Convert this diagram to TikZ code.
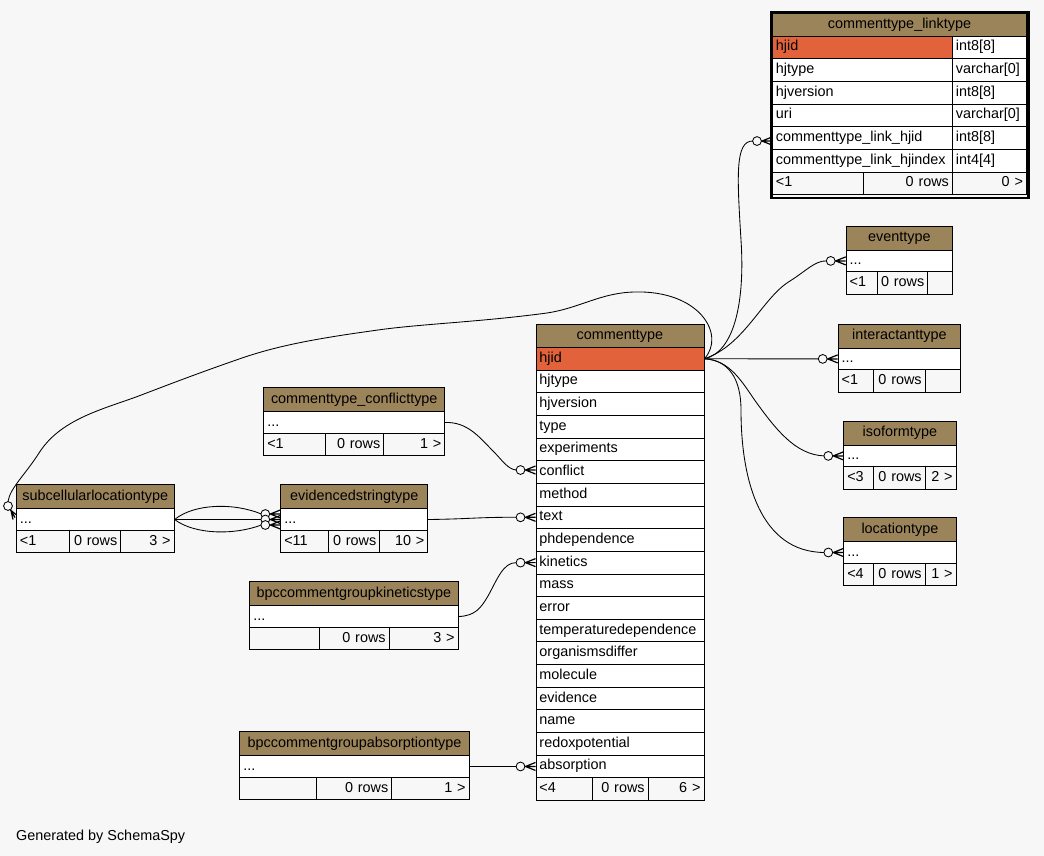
\documentclass[tikz,border=0pt]{standalone}
\usepackage{fontspec}
\setmainfont{Liberation Sans}
\usetikzlibrary{calc}
\definecolor{bgc}{HTML}{F7F7F7}
\definecolor{hdrc}{HTML}{9C845A}
\definecolor{keyc}{HTML}{E2623B}
\newcommand\fkend[1]{%
  \draw[crow] ($(#1)+(-10,0)$) -- ($(#1)+(0,-4)$)
              ($(#1)+(-10,0)$) -- ($(#1)+(0,4)$)
              ($(#1)+(-11,0)$) -- (#1);
  \draw[conn, fill=bgc] ($(#1)+(-15,0)$) circle[radius=4.4pt];
}
\begin{document}
\begin{tikzpicture}[x=1pt,y=-1pt,
  font=\fontsize{14.4}{16}\selectfont,
  cell/.style={draw=black,line width=0.9pt,inner xsep=3.5pt,inner ysep=0pt,anchor=north west,text height=10pt,text depth=3pt},
  W/.code={\pgfmathsetlengthmacro\cellw{#1pt-7pt}\edef\tmpcell{\noexpand\tikzset{text width=\cellw}}\tmpcell},
  H/.style={minimum height=#1pt},
  hdr/.style={cell,fill=hdrc,align=center},
  fld/.style={cell,fill=white,align=left},
  key/.style={cell,fill=keyc,align=left},
  fl/.style={cell,fill=bgc,align=left},
  fr/.style={cell,fill=bgc,align=right},
  conn/.style={line width=0.85pt},
  crow/.style={line width=1.2pt},
  frame/.style={draw=black,line width=2.6pt,inner sep=0pt,anchor=north west},
  note/.style={anchor=base west,inner sep=0pt}
]
\fill[bgc] (0,0) rectangle (1044,856);

% ---------- commenttype_linktype ----------
\node[hdr,W=254,H=22.65] (lt-h) at (772,13) {commenttype\_linktype};
\node[key,W=180,H=22.65] (lt-n1) at (772,35.65) {hjid};
\node[fld,W=74,H=22.65] (lt-t1) at (952,35.65) {int8[8]};
\node[fld,W=180,H=22.65] (lt-n2) at (772,58.3) {hjtype};
\node[fld,W=74,H=22.65] (lt-t2) at (952,58.3) {varchar[0]};
\node[fld,W=180,H=22.65] (lt-n3) at (772,80.95) {hjversion};
\node[fld,W=74,H=22.65] (lt-t3) at (952,80.95) {int8[8]};
\node[fld,W=180,H=22.65] (lt-n4) at (772,103.6) {uri};
\node[fld,W=74,H=22.65] (lt-t4) at (952,103.6) {varchar[0]};
\node[fld,W=180,H=22.65] (lt-n5) at (772,126.25) {commenttype\_link\_hjid};
\node[fld,W=74,H=22.65] (lt-t5) at (952,126.25) {int8[8]};
\node[fld,W=180,H=22.65] (lt-n6) at (772,148.9) {commenttype\_link\_hjindex};
\node[fld,W=74,H=22.65] (lt-t6) at (952,148.9) {int4[4]};
\node[fl,W=91,H=22.65] (lt-f1) at (772,171.55) {<1};
\node[fr,W=89,H=22.65] (lt-f2) at (863,171.55) {0 rows};
\node[fr,W=74,H=22.65] (lt-f3) at (952,171.55) {0 >};
\node[frame,minimum width=257pt,minimum height=185.5pt] (lt-frame) at (770.3,11.3) {};

% ---------- commenttype ----------
\node[hdr,W=168,H=23.5] (ct-h) at (535.5,323.5) {commenttype};
\node[key,W=168,H=22.65] (ct-hjid) at (535.5,347) {hjid};
\foreach \nm [count=\i from 1] in {hjtype,hjversion,type,experiments,conflict,method,text,phdependence,kinetics,mass,error,temperaturedependence,organismsdiffer,molecule,evidence,name,redoxpotential,absorption}
  \node[fld,W=168,H=22.65] (ct-\nm) at (535.5,{347+\i*22.65}) {\nm};
\node[fl,W=56.2,H=22.65] (ct-f1) at (535.5,777.35) {<4};
\node[fr,W=56,H=22.65] (ct-f2) at (591.7,777.35) {0 rows};
\node[fr,W=55.8,H=22.65] (ct-f3) at (647.7,777.35) {6 >};

% ---------- eventtype ----------
\node[hdr,W=106.6,H=24] (ev-h) at (845.7,225.7) {eventtype};
\node[fld,W=106.6,H=21.5] (ev-r) at (845.7,249.7) {...};
\node[fl,W=31,H=22.5] (ev-f1) at (845.7,271.2) {<1};
\node[fr,W=50.6,H=22.5] (ev-f2) at (876.7,271.2) {0 rows};
\node[fr,W=25,H=22.5] (ev-f3) at (927.3,271.2) {};

% ---------- interactanttype ----------
\node[hdr,W=122.3,H=24] (ia-h) at (837.7,323.7) {interactanttype};
\node[fld,W=122.3,H=21.5] (ia-r) at (837.7,347.7) {...};
\node[fl,W=35.6,H=22.5] (ia-f1) at (837.7,369.2) {<1};
\node[fr,W=51.4,H=22.5] (ia-f2) at (873.3,369.2) {0 rows};
\node[fr,W=35.3,H=22.5] (ia-f3) at (924.7,369.2) {};

% ---------- isoformtype ----------
\node[hdr,W=112.4,H=24] (iso-h) at (843.3,420.7) {isoformtype};
\node[fld,W=112.4,H=21.5] (iso-r) at (843.3,444.7) {...};
\node[fl,W=30,H=22.5] (iso-f1) at (843.3,466.2) {<3};
\node[fr,W=51.4,H=22.5] (iso-f2) at (873.3,466.2) {0 rows};
\node[fr,W=31,H=22.5] (iso-f3) at (924.7,466.2) {2 >};

% ---------- locationtype ----------
\node[hdr,W=112.4,H=24] (loc-h) at (843.3,517.3) {locationtype};
\node[fld,W=112.4,H=21.5] (loc-r) at (843.3,541.3) {...};
\node[fl,W=30,H=22.5] (loc-f1) at (843.3,562.8) {<4};
\node[fr,W=51.4,H=22.5] (loc-f2) at (873.3,562.8) {0 rows};
\node[fr,W=31,H=22.5] (loc-f3) at (924.7,562.8) {1 >};

% ---------- commenttype_conflicttype ----------
\node[hdr,W=181,H=24] (cf-h) at (263.3,387.3) {commenttype\_conflicttype};
\node[fld,W=181,H=21.5] (cf-r) at (263.3,411.3) {...};
\node[fl,W=61.4,H=22.5] (cf-f1) at (263.3,432.8) {<1};
\node[fr,W=58.6,H=22.5] (cf-f2) at (324.7,432.8) {0 rows};
\node[fr,W=61,H=22.5] (cf-f3) at (383.3,432.8) {1 >};

% ---------- evidencedstringtype ----------
\node[hdr,W=147,H=24] (es-h) at (280.3,484.3) {evidencedstringtype};
\node[fld,W=147,H=21.5] (es-r) at (280.3,508.3) {...};
\node[fl,W=48,H=22.5] (es-f1) at (280.3,529.8) {<11};
\node[fr,W=51,H=22.5] (es-f2) at (328.3,529.8) {0 rows};
\node[fr,W=48,H=22.5] (es-f3) at (379.3,529.8) {10 >};

% ---------- subcellularlocationtype ----------
\node[hdr,W=157.7,H=24] (sc-h) at (16,484.3) {subcellularlocationtype};
\node[fld,W=157.7,H=21.5] (sc-r) at (16,508.3) {...};
\node[fl,W=53.3,H=22.5] (sc-f1) at (16,529.8) {<1};
\node[fr,W=51,H=22.5] (sc-f2) at (69.3,529.8) {0 rows};
\node[fr,W=53.4,H=22.5] (sc-f3) at (120.3,529.8) {3 >};

% ---------- bpccommentgroupkineticstype ----------
\node[hdr,W=208.4,H=24] (kt-h) at (249.3,581.3) {bpccommentgroupkineticstype};
\node[fld,W=208.4,H=21.5] (kt-r) at (249.3,605.3) {...};
\node[fl,W=70,H=22.5] (kt-f1) at (249.3,626.8) {};
\node[fr,W=69.4,H=22.5] (kt-f2) at (319.3,626.8) {0 rows};
\node[fr,W=69,H=22.5] (kt-f3) at (388.7,626.8) {3 >};

% ---------- bpccommentgroupabsorptiontype ----------
\node[hdr,W=229.4,H=24] (ab-h) at (239.3,731.3) {bpccommentgroupabsorptiontype};
\node[fld,W=229.4,H=21.5] (ab-r) at (239.3,755.3) {...};
\node[fl,W=77,H=22.5] (ab-f1) at (239.3,776.8) {};
\node[fr,W=75,H=22.5] (ab-f2) at (316.3,776.8) {0 rows};
\node[fr,W=77.4,H=22.5] (ab-f3) at (391.3,776.8) {1 >};

\node[note] (gen) at (16,840) {Generated by SchemaSpy};

% ---------- connector end points ----------
\coordinate (e-lt) at ([yshift=-3pt]lt-n5.west);
\coordinate (e-cf) at ([yshift=2pt]ct-conflict.west);
\coordinate (es-in1) at ([yshift=5.5pt]es-r.west);
\coordinate (es-in2) at (es-r.west);
\coordinate (es-in3) at ([yshift=-5.5pt]es-r.west);
\coordinate (sc-in) at (sc-r.west);

% ---------- connectors from commenttype.hjid ----------
\draw[conn] (ct-hjid.east) .. controls (735,352) and (745,300) .. (741,240)
  .. controls (737,175) and (735,140.6) .. ($(e-lt)+(-19,0)$);
\draw[conn] (ct-hjid.east) .. controls (745,345) and (762,298) .. (790,281)
  .. controls (806,271) and (815,260.5) .. ($(ev-r.west)+(-19,0)$);
\draw[conn] (ct-hjid.east) -- ($(ia-r.west)+(-19,0)$);
\draw[conn] (ct-hjid.east) .. controls (730,360) and (742,382) .. (756,402)
  .. controls (775,428) and (795,455) .. ($(iso-r.west)+(-19,0)$);
\draw[conn] (ct-hjid.east) .. controls (728,360) and (741,378) .. (741,410)
  .. controls (741,480) and (760,552) .. ($(loc-r.west)+(-19,0)$);
\draw[conn] (ct-hjid.east) .. controls (726,335) and (700,290) .. (634,292)
  .. controls (600,293) and (580,308) .. (547,313)
  .. controls (480,322) and (420,324) .. (378,330)
  .. controls (320,338) and (280,345) .. (242,358)
  .. controls (190,376) and (160,388) .. (136,397)
  .. controls (100,410) and (60,420) .. (39,453)
  .. controls (25,475) and (10,488) .. ($(sc-in)+(-8,-17.9)$);

% ---------- connectors into commenttype ----------
\draw[conn] (cf-r.east) .. controls (468,421.7) and (480,438) .. (494,452)
  .. controls (502,460) and (508,469.6) .. ($(e-cf)+(-19,0)$);
\draw[conn] (es-r.east) .. controls (470,519) and (480,517) .. ($(ct-text.west)+(-19,0)$);
\draw[conn] (kt-r.east) .. controls (475,616) and (481,608) .. (488,596)
  .. controls (497,580) and (503,562.2) .. ($(ct-kinetics.west)+(-19,0)$);
\draw[conn] (ab-r.east) -- ($(ct-absorption.west)+(-19,0)$);

% ---------- subcellularlocationtype -> evidencedstringtype ----------
\draw[conn] (sc-r.east) .. controls (195,503) and (235,503) .. ($(es-in1)+(-19,0)$);
\draw[conn] (sc-r.east) -- ($(es-in2)+(-19,0)$);
\draw[conn] (sc-r.east) .. controls (195,535) and (235,535) .. ($(es-in3)+(-19,0)$);

% ---------- ends ----------
\fkend{e-lt}
\fkend{ev-r.west}
\fkend{ia-r.west}
\fkend{iso-r.west}
\fkend{loc-r.west}
\fkend{e-cf}
\fkend{ct-text.west}
\fkend{ct-kinetics.west}
\fkend{ct-absorption.west}
\fkend{es-in1}
\fkend{es-in2}
\fkend{es-in3}
\draw[crow] ($(sc-in)+(-5,-9)$) -- ($(sc-in)+(0,-5)$)
            ($(sc-in)+(-5,-9)$) -- ($(sc-in)+(-3,0)$)
            ($(sc-in)+(-6,-10.5)$) -- ($(sc-in)+(-1,-2)$);
\draw[conn,fill=bgc] ($(sc-in)+(-8,-13.5)$) circle[radius=4.4pt];
\end{tikzpicture}
\end{document}
